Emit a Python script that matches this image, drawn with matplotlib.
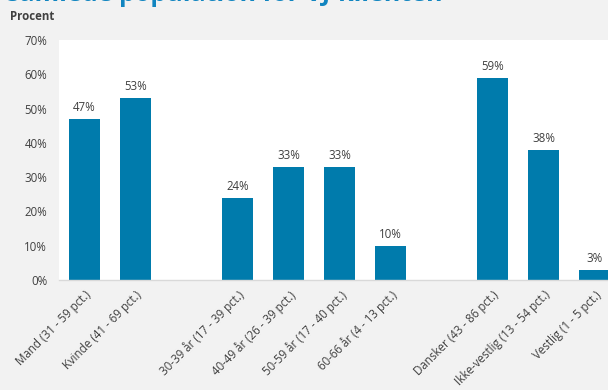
import numpy as np
import matplotlib
matplotlib.use("Agg")
from matplotlib import pyplot as plt

plt.rcParams['font.family'] = ['Open Sans', 'DejaVu Sans']

# groups separated by an empty slot
labels = ['Mand (31 - 59 pct.)', 'Kvinde (41 - 69 pct.)',
          '30-39 år (17 - 39 pct.)', '40-49 år (26 - 39 pct.)',
          '50-59 år (17 - 40 pct.)', '60-66 år (4 - 13 pct.)',
          'Dansker (43 - 86 pct.)', 'Ikke-vestlig (13 - 54 pct.)',
          'Vestlig (1 - 5 pct.)']
values = [47, 53, 24, 33, 33, 10, 59, 38, 3]
slots = [0, 1, 3, 4, 5, 6, 8, 9, 10]

bar_color = '#007bac'
bg = '#f2f2f2'
txt = '#404040'
fs = 8.3

fig = plt.figure(figsize=(6.08, 3.9), dpi=100, facecolor=bg)
ax = fig.add_axes([59 / 608, 1 - 280 / 390, 561 / 608, 240 / 390])
ax.set_facecolor('white')

ax.bar(slots, values, width=0.62, color=bar_color, zorder=2)
for x, v in zip(slots, values):
    ax.text(x, v + 1.5, f'{v}%', ha='center', va='bottom', fontsize=fs, color=txt)

ax.set_xlim(-0.5, 10.5)
ax.set_ylim(0, 70)
ax.set_yticks(np.arange(0, 71, 10))
ax.set_yticklabels([f'{t}%' for t in range(0, 71, 10)], fontsize=fs, color=txt)
ax.set_xticks(slots)
ax.set_xticklabels(labels, rotation=45, ha='right', rotation_mode='anchor',
                   fontsize=fs, color=txt)
ax.tick_params(axis='both', length=0)
ax.tick_params(axis='y', pad=8.5)
ax.tick_params(axis='x', pad=6)

for s in ['top', 'right', 'left']:
    ax.spines[s].set_visible(False)
ax.spines['bottom'].set_color('#d9d9d9')
ax.spines['bottom'].set_linewidth(1)

fig.text(10 / 608, 1 - 17 / 390, 'Procent', fontsize=fs, fontweight='bold',
         color=txt, va='center', ha='left')
fig.text(7 / 608, 1 - 1 / 390, 'samlede population for VJ-klienten',
         fontsize=18, fontweight='bold', color='#1185c0', va='baseline', ha='left')

fig.savefig('out.png', dpi=100, facecolor=bg)
